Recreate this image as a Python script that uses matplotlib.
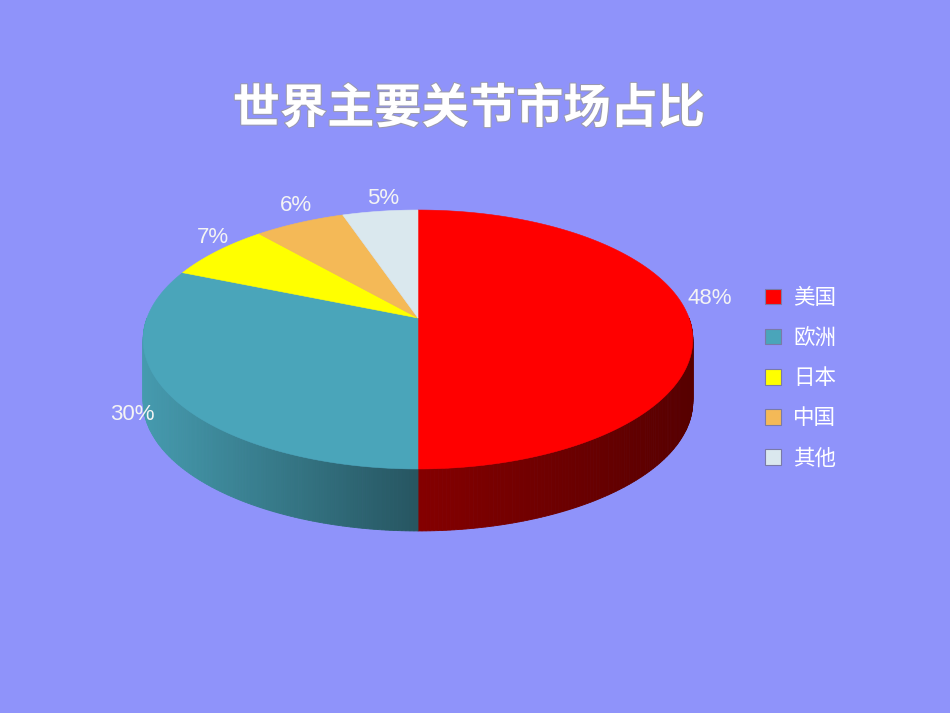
import numpy as np
import matplotlib
matplotlib.use('Agg')
import matplotlib.pyplot as plt
from matplotlib.patches import Polygon, Patch
from matplotlib.font_manager import FontProperties
import matplotlib.patheffects as pe

# ---- data ----
title = '世界主要关节市场占比'
categories = ['美国', '欧洲', '日本', '中国', '其他']
values = [48, 30, 7, 6, 5]
pct_labels = ['48%', '30%', '7%', '6%', '5%']

# ---- style ----
colors = ['#FF0000', '#4AA5BA', '#FFFF00', '#F4B957', '#DAE8EE']
bg = '#8F93FA'
W, H = 950, 713

fig = plt.figure(figsize=(W / 100, H / 100), dpi=100, facecolor=bg)
ax = fig.add_axes([0, 0, 1, 1])
ax.set_xlim(0, W)
ax.set_ylim(H, 0)
ax.axis('off')
ax.set_facecolor(bg)

# 3D pie geometry (perspective projection of a tilted disc)
cx, cy = 418, 318
A, B, k = 271.0, 125.9, 0.166
depth = 62.0


def proj(t, r=1.0):
    X = r * np.cos(t)
    Y = r * np.sin(t)
    d = 1 + k * Y
    return cx + A * X / d, cy - B * Y / d


vals = np.array(values, dtype=float)
frac = vals / vals.sum()
bounds = np.deg2rad(90 - 360 * np.concatenate([[0], np.cumsum(frac)]))

# side shading as function of screen x
shade_x = [143, 418, 693]
shade_v = [0.94, 0.52, 0.34]

# sides (front half only)
for i in range(len(values)):
    t0, t1 = bounds[i], bounds[i + 1]  # t0 > t1 (clockwise)
    for off in (0, -2 * np.pi, 2 * np.pi):
        lo = max(t1 + off, -np.pi)
        hi = min(t0 + off, 0.0)
        if hi <= lo:
            continue
        ts = np.linspace(lo, hi, max(int((hi - lo) / np.deg2rad(0.7)), 2))
        base = np.array(matplotlib.colors.to_rgb(colors[i]))
        for a, b in zip(ts[:-1], ts[1:]):
            xa, ya = proj(a)
            xb, yb = proj(b)
            s = np.interp((xa + xb) / 2, shade_x, shade_v)
            c = np.clip(base * s, 0, 1)
            ax.add_patch(Polygon([(xa, ya), (xb, yb), (xb, yb + depth), (xa, ya + depth)],
                                 closed=True, facecolor=c, edgecolor=c, lw=0.6))

# top faces
for i in range(len(values)):
    t0, t1 = bounds[i], bounds[i + 1]
    ts = np.linspace(t0, t1, 200)
    xs, ys = proj(ts)
    pts = [(cx, cy)] + list(zip(xs, ys))
    ax.add_patch(Polygon(pts, closed=True, facecolor=colors[i], edgecolor=colors[i], lw=0.4))

# percentage labels
lab_dx = [-6, -10, 14, 7, 6]
lab_dy = [-19, 11, -8, -9, -4]
for i, lab in enumerate(pct_labels):
    tm = (bounds[i] + bounds[i + 1]) / 2
    lx, ly = proj(tm, 1.1)
    ax.text(lx + lab_dx[i], ly + lab_dy[i], lab, ha='center', va='center',
            fontsize=16, color='#F4F4F4', family=['Liberation Sans', 'DejaVu Sans'])

# title
ax.text(469, 109, title, ha='center', va='center', fontsize=34, fontweight='bold',
        color='white', family=['Noto Sans CJK SC', 'DejaVu Sans'],
        path_effects=[pe.withStroke(linewidth=1.5, foreground='#9a9ab0')])

# legend
handles = [Patch(facecolor=c, edgecolor='#7a7aa8', lw=0.8) for c in colors]
leg = fig.legend(handles, categories, loc='upper left',
                 bbox_to_anchor=(765 / W, 1 - 287 / H), frameon=False,
                 borderaxespad=0, borderpad=0, handlelength=0.75, handleheight=0.75,
                 handletextpad=0.55, labelspacing=0.84,
                 prop=FontProperties(family=['Noto Sans CJK SC', 'DejaVu Sans'], size=15.5))
for t in leg.get_texts():
    t.set_color('white')

fig.savefig('out.png', dpi=100, facecolor=bg)
